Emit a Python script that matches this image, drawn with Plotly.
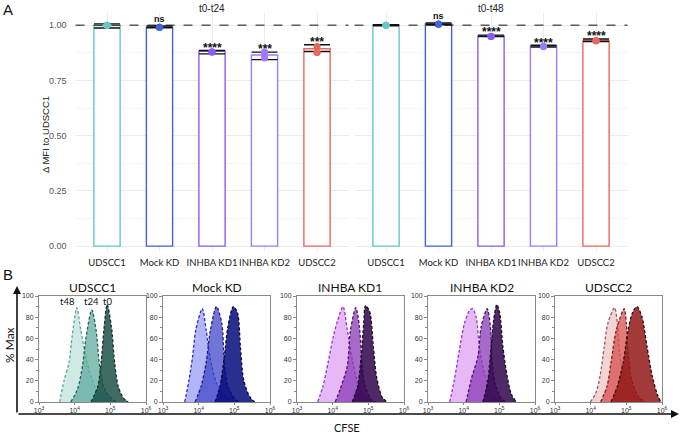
import plotly.graph_objects as go

W, H = 680, 435

# ---- panel A data -------------------------------------------------------
groups = ["UDSCC1", "Mock KD", "INHBA KD1", "INHBA KD2", "UDSCC2"]
group_colors = ["#66c7c4", "#4263d8", "#8b5cf6", "#9d7cff", "#e8675f"]

t24_mean = [0.998, 0.991, 0.882, 0.865, 0.893]
t24_lo = [0.987, 0.988, 0.870, 0.844, 0.881]
t24_hi = [1.006, 0.996, 0.885, 0.878, 0.911]
t24_points = [[1.0, 1.0, 1.0], [0.990, 0.990, 0.991], [0.878, 0.879, 0.878],
              [0.878, 0.866, 0.851], [0.903, 0.876, 0.877]]
t24_sig = ["", "ns", "****", "***", "***"]

t48_mean = [1.0, 1.006, 0.951, 0.905, 0.931]
t48_lo = [0.997, 1.002, 0.948, 0.901, 0.926]
t48_hi = [1.002, 1.010, 0.955, 0.909, 0.937]
t48_points = [[1.0, 1.0, 1.0], [1.004, 1.005, 1.004], [0.949, 0.950, 0.949],
              [0.903, 0.904, 0.903], [0.929, 0.930, 0.928]]
t48_sig = ["", "ns", "****", "****", "****"]

# ---- panel B data (log10 CFSE, % Max) ----------------------------------
UDSCC1_T48_X = [3.58, 3.70, 3.84, 3.93, 4.06, 4.17, 4.31, 4.46, 4.65, 4.93, 5.12]
UDSCC1_T48_Y = [0, 20, 37, 62, 89, 68, 43, 24, 10, 2, 0]
UDSCC1_T24_X = [3.89, 4.08, 4.22, 4.31, 4.48, 4.60, 4.70, 4.84, 5.08, 5.22]
UDSCC1_T24_Y = [0, 12, 34, 59, 87, 68, 34, 12, 2, 0]
UDSCC1_T0_X = [4.46, 4.65, 4.74, 4.82, 4.91, 5.03, 5.12, 5.22, 5.36, 5.50]
UDSCC1_T0_Y = [0, 15, 37, 68, 92, 71, 37, 15, 4, 0]

MOCK_T48_X = [3.61, 3.73, 3.83, 3.92, 4.10, 4.21, 4.33, 4.50, 4.75, 4.99]
MOCK_T48_Y = [0, 21, 43, 68, 88, 68, 40, 18, 5, 0]
MOCK_T24_X = [3.90, 4.07, 4.21, 4.33, 4.50, 4.65, 4.72, 4.82, 5.04, 5.18]
MOCK_T24_Y = [0, 15, 37, 68, 90, 74, 37, 15, 2, 0]
MOCK_T0_X = [4.46, 4.60, 4.72, 4.82, 4.97, 5.09, 5.17, 5.26, 5.43, 5.57]
MOCK_T0_Y = [0, 15, 43, 71, 90, 84, 52, 21, 5, 0]

KD1_T48_X = [3.58, 3.73, 3.87, 4.02, 4.14, 4.29, 4.41, 4.55, 4.70, 4.89, 5.09]
KD1_T48_Y = [0, 15, 37, 62, 77, 90, 68, 40, 18, 4, 0]
KD1_T24_X = [4.07, 4.21, 4.41, 4.50, 4.65, 4.75, 4.82, 4.91, 5.09, 5.23]
KD1_T24_Y = [0, 12, 34, 68, 89, 71, 37, 15, 2, 0]
KD1_T0_X = [4.55, 4.70, 4.80, 4.87, 4.92, 5.04, 5.14, 5.23, 5.38, 5.52]
KD1_T0_Y = [0, 15, 43, 74, 91, 85, 52, 24, 5, 0]

KD2_T48_X = [3.61, 3.74, 3.88, 4.02, 4.16, 4.25, 4.35, 4.44, 4.58, 4.77, 5.01]
KD2_T48_Y = [0, 21, 49, 74, 86, 88, 80, 52, 27, 8, 0]
KD2_T24_X = [4.07, 4.21, 4.40, 4.49, 4.66, 4.75, 4.80, 4.90, 5.06, 5.20]
KD2_T24_Y = [0, 21, 43, 71, 88, 71, 37, 15, 3, 0]
KD2_T0_X = [4.54, 4.68, 4.77, 4.84, 4.93, 5.01, 5.10, 5.22, 5.34, 5.48]
KD2_T0_Y = [0, 21, 52, 77, 92, 84, 52, 24, 7, 0]

UDSCC2_T48_X = [3.99, 4.14, 4.26, 4.38, 4.48, 4.67, 4.75, 4.81, 4.96, 5.20, 5.49]
UDSCC2_T48_Y = [0, 8, 24, 52, 74, 89, 74, 46, 21, 7, 0]
UDSCC2_T24_X = [4.28, 4.46, 4.57, 4.72, 4.94, 5.00, 5.05, 5.15, 5.34, 5.54]
UDSCC2_T24_Y = [0, 15, 37, 68, 88, 74, 46, 21, 5, 0]
UDSCC2_T0_X = [4.57, 4.75, 4.91, 5.05, 5.17, 5.30, 5.44, 5.58, 5.73, 5.87, 5.97]
UDSCC2_T0_Y = [0, 15, 37, 68, 84, 90, 80, 52, 24, 7, 0]

time_labels = ["t48", "t24", "t0"]
hist_curves = [
    [(UDSCC1_T48_X, UDSCC1_T48_Y), (UDSCC1_T24_X, UDSCC1_T24_Y), (UDSCC1_T0_X, UDSCC1_T0_Y)],
    [(MOCK_T48_X, MOCK_T48_Y), (MOCK_T24_X, MOCK_T24_Y), (MOCK_T0_X, MOCK_T0_Y)],
    [(KD1_T48_X, KD1_T48_Y), (KD1_T24_X, KD1_T24_Y), (KD1_T0_X, KD1_T0_Y)],
    [(KD2_T48_X, KD2_T48_Y), (KD2_T24_X, KD2_T24_Y), (KD2_T0_X, KD2_T0_Y)],
    [(UDSCC2_T48_X, UDSCC2_T48_Y), (UDSCC2_T24_X, UDSCC2_T24_Y), (UDSCC2_T0_X, UDSCC2_T0_Y)],
]
# fill / dashed outline colours, light (t48) -> dark (t0)
hist_fills = [
    ["rgba(186,224,218,0.7)", "rgba(94,171,158,0.75)", "rgba(28,81,73,0.85)"],
    ["rgba(146,149,244,0.7)", "rgba(64,71,200,0.75)", "rgba(4,10,123,0.85)"],
    ["rgba(219,154,241,0.7)", "rgba(136,58,183,0.75)", "rgba(48,4,75,0.85)"],
    ["rgba(219,154,241,0.7)", "rgba(136,58,183,0.75)", "rgba(48,4,75,0.85)"],
    ["rgba(238,192,192,0.7)", "rgba(218,78,78,0.75)", "rgba(147,23,23,0.85)"],
]
hist_lines = [
    ["#5aa89d", "#2e5e57", "#1c2f2c"],
    ["#2a2ad6", "#1b1b7a", "#0a0a35"],
    ["#9b2fd4", "#4a1866", "#1a0a22"],
    ["#9b2fd4", "#4a1866", "#1a0a22"],
    ["#9c5a5a", "#7a2020", "#2a0f0f"],
]


def px_x(p):
    return p / W


def px_y(p):
    return 1 - p / H


def paper_text(text, x, y, size, family="Liberation Sans", angle=0, color="#111"):
    # text placed by pixel position, centred on (x, y)
    return dict(text=text, x=px_x(x), y=px_y(y), xref="paper", yref="paper",
                xanchor="center", yanchor="middle", showarrow=False, textangle=angle,
                font=dict(family=family, size=size, color=color))


fig = go.Figure()

# ---- panel A ------------------------------------------------------------
facets = [
    ("x", "y", t24_mean, t24_lo, t24_hi, t24_points, t24_sig),
    ("x2", "y2", t48_mean, t48_lo, t48_hi, t48_points, t48_sig),
]
annotations = []
for xa, ya, mean, lo, hi, pts, sig in facets:
    fig.add_trace(go.Bar(
        x=groups, y=mean, xaxis=xa, yaxis=ya, width=0.5,
        marker=dict(color="white", line=dict(color=group_colors, width=1.4)),
        error_y=dict(type="data", symmetric=False,
                     array=[h - m for h, m in zip(hi, mean)],
                     arrayminus=[m - l for m, l in zip(mean, lo)],
                     color="#111", thickness=1.4, width=13),
        showlegend=False, hoverinfo="skip",
    ))
    for g, c, p in zip(groups, group_colors, pts):
        fig.add_trace(go.Scatter(
            x=[g] * len(p), y=p, xaxis=xa, yaxis=ya, mode="markers",
            marker=dict(color=c, size=7), showlegend=False,
        ))
    for g, s, h in zip(groups, sig, hi):
        if not s:
            continue
        is_ns = s == "ns"
        annotations.append(dict(
            x=g, y=h + (0.033 if is_ns else 0.012), xref=xa, yref=ya,
            text=f"<b>{s}</b>", showarrow=False, xanchor="center", yanchor="middle",
            font=dict(family="Liberation Sans", size=9 if is_ns else 12, color="#111"),
        ))
    fig.add_shape(type="line", xref=xa + " domain", yref=ya, x0=0, x1=1, y0=1, y1=1,
                  line=dict(color="#111", width=1, dash="dash"))

yA = dict(domain=[px_y(250.5), px_y(13)], range=[-0.02, 1.055], tick0=0, dtick=0.25,
          tickformat=".2f", showgrid=True, gridcolor="#ebebeb", gridwidth=1,
          zeroline=False, showline=False, automargin=False,
          minor=dict(dtick=0.125, showgrid=True, gridcolor="#f4f4f4"),
          tickfont=dict(family="Liberation Sans", size=9, color="#555"))
xA = dict(type="category", categoryorder="array", categoryarray=groups, range=[-0.6, 4.6],
          showgrid=True, gridcolor="#ebebeb", zeroline=False, showline=False, ticks="",
          tickangle=0, automargin=False, ticklabelstandoff=5,
          tickfont=dict(family="Lato", size=9.5, color="#222"))

layout_axes = {
    "xaxis": dict(xA, domain=[px_x(75.5), px_x(348.5)], anchor="y"),
    "xaxis2": dict(xA, domain=[px_x(354.5), px_x(627.5)], anchor="y2"),
    "yaxis": dict(yA, anchor="x", ticklabelstandoff=8),
    "yaxis2": dict(yA, anchor="x2", matches="y", showticklabels=False),
}

annotations += [
    paper_text("t0-t24", 212, 8, 10, color="#222"),
    paper_text("t0-t48", 491, 8, 10, color="#222"),
    paper_text("Δ MFI to UDSCC1", 46, 135, 9.5, angle=-90, color="#222"),
    paper_text("A", 8, 9, 15),
    paper_text("B", 8, 274, 15),
]

# ---- panel B ------------------------------------------------------------
b_lefts = [39, 163, 297, 428, 555]
b_width = 107
label_anchor = ["right", "center", "center"]
for i, (name, curves) in enumerate(zip(groups, hist_curves)):
    n = i + 3
    xa, ya = f"x{n}", f"y{n}"
    for j, (cx, cy) in enumerate(curves):
        fig.add_trace(go.Scatter(
            x=cx, y=cy, xaxis=xa, yaxis=ya, mode="lines", fill="tozeroy",
            fillcolor=hist_fills[i][j], line_shape="spline", line_smoothing=0.8,
            line=dict(color=hist_lines[i][j], width=1.3, dash="3px,2px"),
            showlegend=False, hoverinfo="skip",
        ))
        if i == 0:
            peak = cy.index(max(cy))
            annotations.append(dict(
                x=cx[peak], y=95, xref=xa, yref=ya, text=time_labels[j], showarrow=False,
                xanchor=label_anchor[j], yanchor="middle",
                font=dict(family="Lato", size=9.5, color="#111"),
            ))
    left = b_lefts[i]
    layout_axes[f"xaxis{n}"] = dict(
        domain=[px_x(left), px_x(left + b_width)], anchor=ya, range=[3, 6],
        tickvals=[3, 4, 5, 6],
        ticktext=["10<sup>3</sup>", "10<sup>4</sup>", "10<sup>5</sup>", "10<sup>6</sup>"],
        showgrid=False, zeroline=False, showline=True, mirror=True, linecolor="#8a8a8a",
        linewidth=1, ticks="outside", ticklen=2, tickcolor="#8a8a8a", automargin=False,
        tickfont=dict(family="Liberation Sans", size=7, color="#333"),
    )
    layout_axes[f"yaxis{n}"] = dict(
        domain=[px_y(402), px_y(296)], anchor=xa, range=[0, 100], dtick=20,
        showgrid=False, zeroline=False, showline=True, mirror=True, linecolor="#8a8a8a",
        linewidth=1, ticks="outside", ticklen=3, tickcolor="#8a8a8a", automargin=False,
        minor=dict(dtick=10, ticks="outside", ticklen=2, tickcolor="#8a8a8a"),
        tickfont=dict(family="Liberation Sans", size=7, color="#333"),
    )
    annotations.append(paper_text(name, left + b_width / 2, 287, 12, family="Lato"))

annotations += [
    # axis arrows
    dict(x=px_x(17), y=px_y(286), xref="paper", yref="paper", ax=0, ay=128,
         axref="pixel", ayref="pixel", text="", showarrow=True, arrowhead=2,
         arrowsize=1, arrowwidth=1.6, arrowcolor="#111"),
    dict(x=px_x(679), y=px_y(414), xref="paper", yref="paper", ax=-662, ay=0,
         axref="pixel", ayref="pixel", text="", showarrow=True, arrowhead=2,
         arrowsize=1, arrowwidth=1.6, arrowcolor="#111"),
    paper_text("% Max", 9, 345, 12, family="Lato", angle=-90),
    paper_text("CFSE", 347, 427, 11, family="Lato"),
]

fig.update_layout(
    width=W, height=H, margin=dict(l=0, r=0, t=0, b=0),
    paper_bgcolor="white", plot_bgcolor="white",
    barmode="overlay", showlegend=False,
    annotations=annotations, **layout_axes,
)

# drop the default 8px page margin so the figure sits at the window's corner
fig.write_html("out.html", config={"displayModeBar": False},
               post_script="document.body.style.margin='0';")
